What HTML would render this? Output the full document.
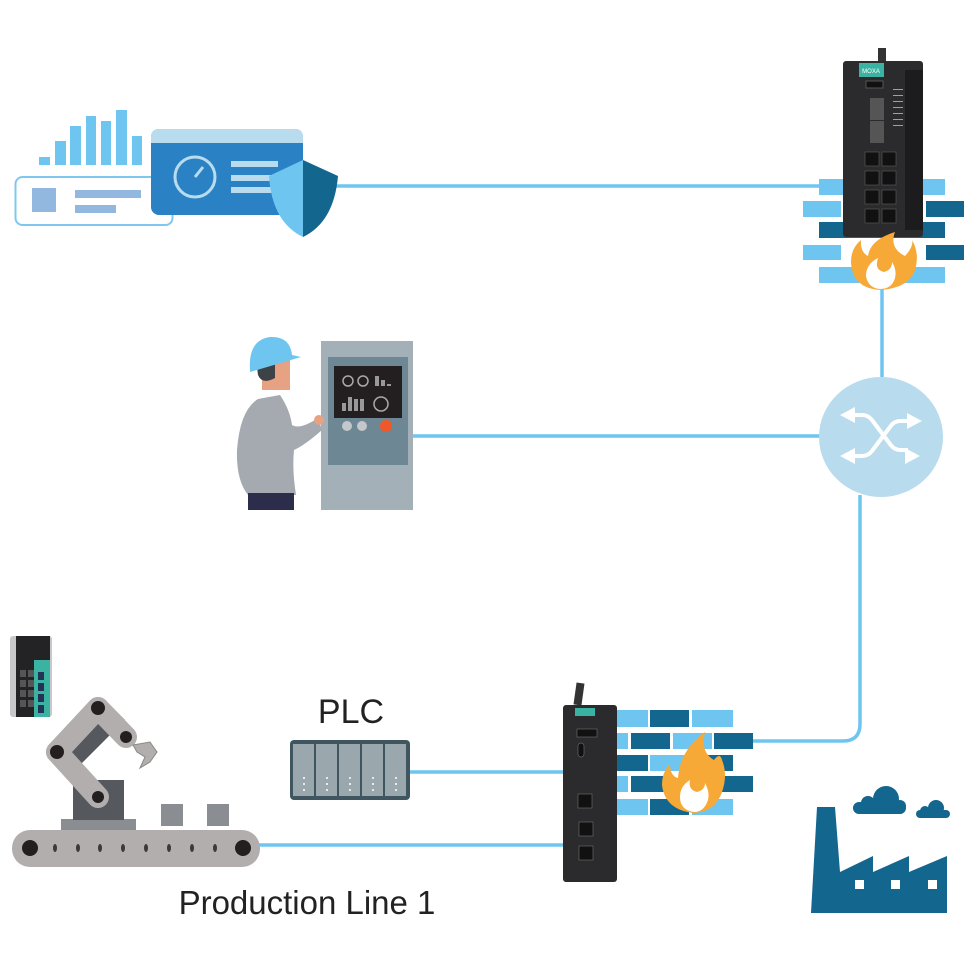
<!DOCTYPE html>
<html><head><meta charset="utf-8"><style>html,body{margin:0;padding:0;background:#fff}svg{display:block}</style></head>
<body>
<svg width="970" height="961" viewBox="0 0 970 961" xmlns="http://www.w3.org/2000/svg" font-family="Liberation Sans, sans-serif">
<!-- connectors -->
<g stroke="#6ec6f0" stroke-width="3.5" fill="none">
<line x1="318" y1="186" x2="822" y2="186"/>
<line x1="882" y1="283" x2="882" y2="380"/>
<line x1="413" y1="436" x2="822" y2="436"/>
<path d="M860 495 V724 Q860 741 843 741 H750"/>
<line x1="410" y1="772" x2="565" y2="772"/>
<line x1="258" y1="845" x2="565" y2="845"/>
</g>
<!-- top-left dashboard -->
<g fill="#6ec6f0">
<rect x="39" y="157" width="11" height="8"/><rect x="55" y="141" width="11" height="24"/><rect x="70" y="126" width="11" height="39"/><rect x="86" y="116" width="10" height="49"/><rect x="101" y="121" width="10" height="44"/><rect x="116" y="110" width="11" height="55"/><rect x="132" y="136" width="10" height="29"/>
</g>
<rect x="15.5" y="177" width="157" height="48" rx="7" fill="#fff" stroke="#7ec8ef" stroke-width="2"/>
<rect x="32" y="188" width="24" height="24" fill="#93b8e0"/>
<rect x="75" y="190" width="66" height="8" fill="#93b8e0"/><rect x="75" y="205" width="41" height="8" fill="#93b8e0"/>
<rect x="151" y="129" width="152" height="86" rx="8" fill="#2a82c4"/>
<path d="M159 129 H295 Q303 129 303 137 V143 H151 V137 Q151 129 159 129Z" fill="#b8dcee"/>
<circle cx="195" cy="177" r="20" fill="none" stroke="#b8dcee" stroke-width="3"/>
<line x1="195" y1="177" x2="203" y2="167" stroke="#b8dcee" stroke-width="3"/>
<g fill="#b8dcee"><rect x="231" y="161" width="47" height="6"/><rect x="231" y="175" width="47" height="6"/><rect x="231" y="187" width="47" height="6"/></g>
<path d="M303 160 L269 176 Q272 222 303 237Z" fill="#6ec6f0"/>
<path d="M303 160 L338 176 Q334 222 303 237Z" fill="#13668e"/>
<!-- top-right firewall bricks -->
<g fill="#6ec6f0"><rect x="819" y="179" width="126" height="16"/><rect x="803" y="201" width="38" height="16"/><rect x="803" y="245" width="38" height="15"/><rect x="819" y="267" width="126" height="16"/></g>
<g fill="#13668e"><rect x="926" y="201" width="38" height="16"/><rect x="819" y="222" width="126" height="16"/><rect x="926" y="245" width="38" height="15"/></g>
<!-- device top right -->
<rect x="878" y="48" width="8" height="14" fill="#333"/>
<rect x="843" y="61" width="80" height="176" rx="3" fill="#2b2b2d"/>
<rect x="905" y="70" width="18" height="160" fill="#1c1c1e"/>
<rect x="859" y="63" width="25" height="14" fill="#3bb3a3"/>
<text x="871" y="73" font-size="6" fill="#fff" text-anchor="middle">MOXA</text>
<rect x="866" y="81" width="17" height="7" fill="#111" stroke="#555"/>
<rect x="870" y="98" width="14" height="22" fill="#555"/><rect x="870" y="121" width="14" height="22" fill="#555"/>
<g fill="#111" stroke="#555" stroke-width="0.7">
<rect x="865" y="152" width="14" height="14"/><rect x="882" y="152" width="14" height="14"/>
<rect x="865" y="171" width="14" height="14"/><rect x="882" y="171" width="14" height="14"/>
<rect x="865" y="190" width="14" height="14"/><rect x="882" y="190" width="14" height="14"/>
<rect x="865" y="209" width="14" height="14"/><rect x="882" y="209" width="14" height="14"/>
</g>
<g fill="#8aa" ><rect x="893" y="89" width="10" height="1"/><rect x="893" y="95" width="10" height="1"/><rect x="893" y="101" width="10" height="1"/><rect x="893" y="107" width="10" height="1"/><rect x="893" y="113" width="10" height="1"/><rect x="893" y="119" width="10" height="1"/><rect x="893" y="125" width="10" height="1"/></g>
<!-- flame top -->
<path d="M880 290 Q852 288 851 262 Q851 248 861 240 Q860 252 868 256 Q870 240 895 232 Q889 248 905 256 Q914 246 912 240 Q919 252 916 266 Q912 288 880 290Z" fill="#f6a937"/>
<path d="M880 289 Q868 288 866 276 Q866 264 878 258 Q874 270 884 272 Q892 270 892 262 Q897 270 895 278 Q892 289 880 289Z" fill="#fff"/>
<!-- switch circle -->
<ellipse cx="881" cy="437" rx="62" ry="60" fill="#b8dcee"/>
<g stroke="#fff" stroke-width="4" fill="none">
<path d="M855 415 H862 Q868 415 872 420 L890 444 Q894 450 900 450 H908"/>
<path d="M855 456 H862 Q868 456 872 451 L890 427 Q894 421 900 421 H908"/>
</g>
<g fill="#fff"><path d="M840 415 L855 407 V423Z"/><path d="M840 456 L855 448 V464Z"/><path d="M922 421 L907 413 V429Z"/><path d="M920 456 L905 448 V464Z"/></g>
<!-- operator panel -->
<rect x="321" y="341" width="92" height="169" fill="#a4b0b8"/>
<rect x="328" y="357" width="80" height="108" fill="#6e8794"/>
<rect x="334" y="366" width="68" height="52" fill="#231f20"/>
<g stroke="#aaa" fill="none" stroke-width="1.5"><circle cx="348" cy="381" r="5"/><circle cx="363" cy="381" r="5"/><circle cx="381" cy="404" r="7"/></g>
<g fill="#999"><rect x="375" y="376" width="4" height="10"/><rect x="381" y="380" width="4" height="6"/><rect x="387" y="384" width="4" height="2"/><rect x="342" y="403" width="4" height="8"/><rect x="348" y="397" width="4" height="14"/><rect x="354" y="399" width="4" height="12"/><rect x="360" y="399" width="4" height="12"/></g>
<circle cx="347" cy="426" r="5" fill="#c4c8cb"/><circle cx="362" cy="426" r="5" fill="#c4c8cb"/><circle cx="386" cy="426" r="6" fill="#f0582a"/>
<!-- person -->
<path d="M258 399 Q240 410 237 450 Q236 480 248 495 H296 Q292 470 294 450 Q305 445 322 430 L318 418 Q300 430 292 425 Q290 410 280 395Z" fill="#a4aab0"/>
<rect x="248" y="493" width="46" height="17" fill="#2b2d4a"/>
<rect x="262" y="360" width="28" height="30" fill="#e7a183"/>
<path d="M256 360 H275 V378 Q262 385 258 375Z" fill="#3d4246"/>
<path d="M250 370 Q248 340 270 337 Q290 336 292 355 L301 357 L250 372Z" fill="#6ec6f0"/>
<circle cx="319" cy="420" r="5" fill="#e7a183"/>
<!-- bottom firewall bricks -->
<g fill="#6ec6f0"><rect x="617" y="710" width="31" height="17"/><rect x="692" y="710" width="41" height="17"/><rect x="617" y="733" width="11" height="16"/><rect x="673" y="733" width="39" height="16"/><rect x="650" y="755" width="39" height="16"/><rect x="617" y="776" width="11" height="16"/><rect x="617" y="799" width="31" height="16"/><rect x="692" y="799" width="41" height="16"/></g>
<g fill="#13668e"><rect x="650" y="710" width="39" height="17"/><rect x="631" y="733" width="39" height="16"/><rect x="714" y="733" width="39" height="16"/><rect x="617" y="755" width="31" height="16"/><rect x="692" y="755" width="41" height="16"/><rect x="631" y="776" width="39" height="16"/><rect x="714" y="776" width="39" height="16"/><rect x="650" y="799" width="39" height="16"/></g>
<path d="M694 813 Q665 810 662 785 Q662 772 670 764 Q670 776 678 778 Q680 750 705 732 Q700 752 714 760 Q720 752 722 760 Q728 775 722 792 Q715 812 694 813Z" fill="#f6a937"/>
<path d="M694 812 Q680 810 680 797 Q680 786 690 780 Q688 790 697 792 Q705 790 705 783 Q710 792 708 800 Q704 812 694 812Z" fill="#fff"/>
<!-- bottom device -->
<rect x="575" y="683" width="8" height="22" fill="#333" transform="rotate(8 579 694)"/>
<rect x="563" y="705" width="54" height="177" rx="3" fill="#2b2b2d"/>
<rect x="575" y="708" width="20" height="8" fill="#3bb3a3"/>
<rect x="577" y="729" width="20" height="8" fill="#111" stroke="#666" stroke-width="0.7"/>
<rect x="578" y="743" width="6" height="14" rx="3" fill="#111" stroke="#666" stroke-width="0.7"/>
<g fill="#111" stroke="#666" stroke-width="0.7"><rect x="578" y="794" width="14" height="14"/><rect x="579" y="822" width="14" height="14"/><rect x="579" y="846" width="14" height="14"/></g>
<!-- PLC -->
<text x="351" y="723" font-size="34" text-anchor="middle" fill="#222">PLC</text>
<rect x="290" y="740" width="120" height="60" rx="4" fill="#3f5560"/>
<g fill="#9aa7ad"><rect x="293" y="744" width="21" height="52"/><rect x="316" y="744" width="21" height="52"/><rect x="339" y="744" width="21" height="52"/><rect x="362" y="744" width="21" height="52"/><rect x="385" y="744" width="21" height="52"/></g>
<g fill="#fff"><circle cx="304" cy="778" r="1"/><circle cx="304" cy="784" r="1"/><circle cx="304" cy="790" r="1"/><circle cx="327" cy="778" r="1"/><circle cx="327" cy="784" r="1"/><circle cx="327" cy="790" r="1"/><circle cx="350" cy="778" r="1"/><circle cx="350" cy="784" r="1"/><circle cx="350" cy="790" r="1"/><circle cx="373" cy="778" r="1"/><circle cx="373" cy="784" r="1"/><circle cx="373" cy="790" r="1"/><circle cx="396" cy="778" r="1"/><circle cx="396" cy="784" r="1"/><circle cx="396" cy="790" r="1"/></g>
<!-- robot & conveyor -->
<rect x="61" y="819" width="75" height="12" fill="#8a8e93"/>
<rect x="73" y="780" width="51" height="40" fill="#55595e"/>
<rect x="161" y="804" width="22" height="22" fill="#8a8e93"/><rect x="207" y="804" width="22" height="22" fill="#8a8e93"/>
<path d="M60 745 L105 700 L125 720 L75 770Z" fill="#55595e"/>
<g stroke="#b3aeae" stroke-width="22" stroke-linecap="round"><line x1="57" y1="752" x2="98" y2="797"/><line x1="98" y1="708" x2="126" y2="737"/><line x1="57" y1="752" x2="98" y2="708"/></g>
<circle cx="57" cy="752" r="7" fill="#231f20"/><circle cx="98" cy="708" r="7" fill="#231f20"/><circle cx="126" cy="737" r="6" fill="#231f20"/><circle cx="98" cy="797" r="6" fill="#231f20"/>
<path d="M133 745 L150 742 L157 752 L150 762 L140 768 L145 757 L137 752Z" fill="#b3aeae" stroke="#888"/>
<rect x="12" y="830" width="248" height="37" rx="18" fill="#b3aeae"/>
<circle cx="30" cy="848" r="8" fill="#231f20"/><circle cx="243" cy="848" r="8" fill="#231f20"/>
<g fill="#3a3a3a"><ellipse cx="55" cy="848" rx="2" ry="4"/><ellipse cx="78" cy="848" rx="2" ry="4"/><ellipse cx="100" cy="848" rx="2" ry="4"/><ellipse cx="123" cy="848" rx="2" ry="4"/><ellipse cx="146" cy="848" rx="2" ry="4"/><ellipse cx="169" cy="848" rx="2" ry="4"/><ellipse cx="192" cy="848" rx="2" ry="4"/><ellipse cx="215" cy="848" rx="2" ry="4"/></g>
<text x="307" y="914" font-size="33" text-anchor="middle" fill="#222">Production Line 1</text>
<!-- small switch -->
<rect x="10" y="636" width="42" height="81" rx="3" fill="#c8c8cc"/>
<rect x="16" y="636" width="34" height="81" fill="#232325"/>
<rect x="34" y="660" width="16" height="57" fill="#3bb3a3"/>
<g fill="#555"><rect x="20" y="670" width="6" height="7"/><rect x="28" y="670" width="6" height="7"/><rect x="20" y="680" width="6" height="7"/><rect x="28" y="680" width="6" height="7"/><rect x="20" y="690" width="6" height="7"/><rect x="28" y="690" width="6" height="7"/><rect x="20" y="700" width="6" height="7"/><rect x="28" y="700" width="6" height="7"/></g>
<g fill="#235"><rect x="38" y="672" width="6" height="8"/><rect x="38" y="683" width="6" height="8"/><rect x="38" y="694" width="6" height="8"/><rect x="38" y="705" width="6" height="8"/></g>
<!-- factory -->
<g fill="#13668e">
<path d="M817 807 H835 L840 872 L873 856 V872 L909 856 V872 L947 856 V913 H811Z"/>
<rect x="853" y="802" width="53" height="12" rx="6"/>
<circle cx="868" cy="803" r="7"/><circle cx="886" cy="799" r="13"/><circle cx="900" cy="806" r="6"/>
<rect x="916" y="810" width="34" height="8" rx="4"/>
<circle cx="925" cy="811" r="5"/><circle cx="936" cy="808" r="8"/>
</g>
<g fill="#fff"><rect x="855" y="880" width="9" height="9"/><rect x="891" y="880" width="9" height="9"/><rect x="928" y="880" width="9" height="9"/></g>
</svg>
</body></html>
